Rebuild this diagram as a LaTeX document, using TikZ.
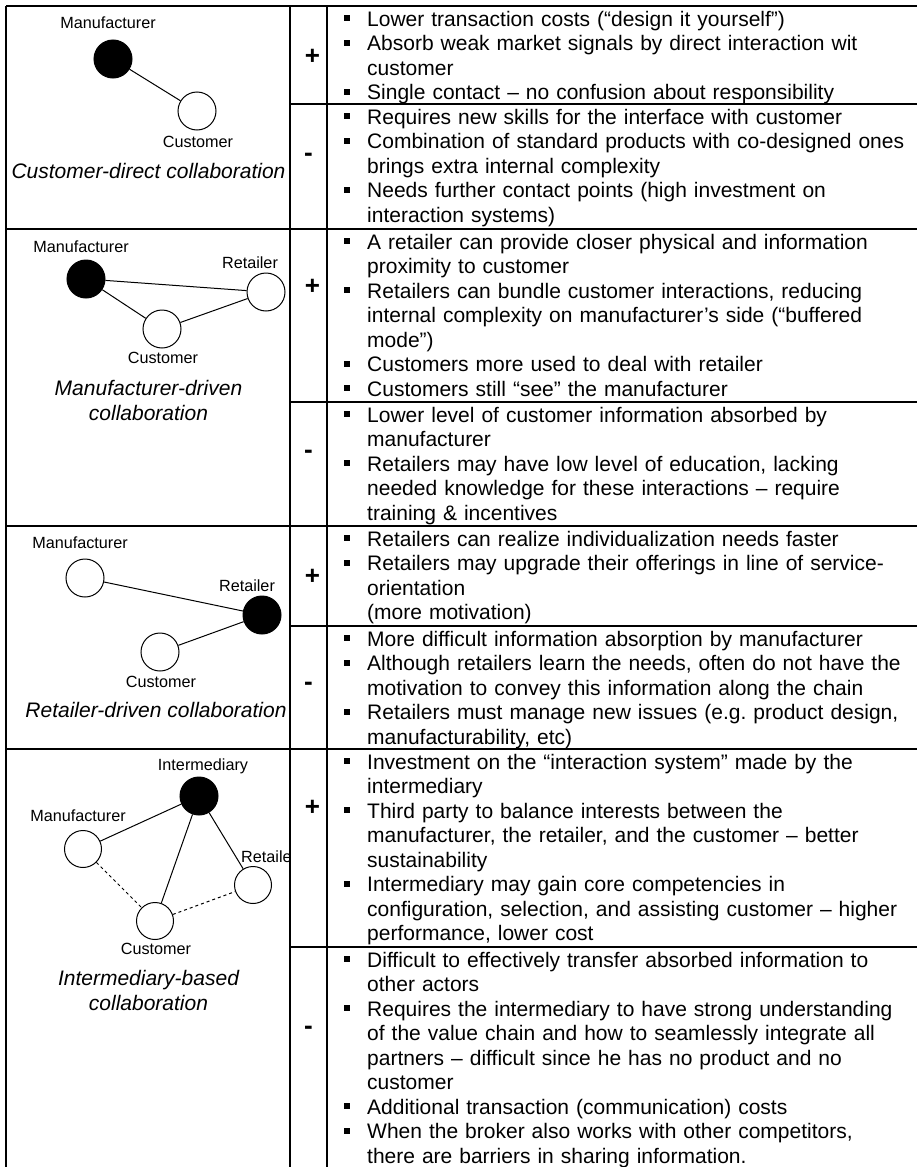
\documentclass[tikz,border=0pt]{standalone}
\usepackage{fontspec}
\setmainfont{Liberation Sans}
\usetikzlibrary{positioning}
\frenchspacing

% one bullet point with hanging indent
\newcommand{\bul}[1]{\hangindent=23pt\hangafter=1\noindent\makebox[23pt][l]{\rule[5pt]{6pt}{6pt}}\strut#1\par}

\begin{document}
\begin{tikzpicture}[
    x=1pt, y=-1pt,
    actor/.style={circle, draw, line width=1pt, minimum size=38pt, inner sep=0pt},
    lead/.style={actor, fill=black},
    lbl/.style={inner sep=0pt, font=\fontsize{16.2}{19}\selectfont},
    caption/.style={inner sep=0pt, align=center, font=\fontsize{21}{24.5}\selectfont\itshape},
    sign/.style={inner sep=0pt, font=\fontsize{26}{30}\selectfont\bfseries},
    cell/.style={anchor=north west, inner sep=0pt, text width=600pt, font=\fontsize{21}{24.5}\selectfont},
    tabline/.style={line width=2pt},
    link/.style={line width=1pt},
    weak/.style={link, dashed}
]
\useasboundingbox (0,0) rectangle (917,1167);

% Table rules
\draw[tabline] (6,6) -- (917,6);
\draw[tabline] (6,229) -- (917,229);
\draw[tabline] (6,526) -- (917,526);
\draw[tabline] (6,749) -- (917,749);
\draw[tabline] (290,104) -- (917,104);
\draw[tabline] (290,402) -- (917,402);
\draw[tabline] (290,626) -- (917,626);
\draw[tabline] (290,947) -- (917,947);
\draw[tabline] (6,6) -- (6,1167);
\draw[tabline] (290,6) -- (290,1167);
\draw[tabline] (327,6) -- (327,1167);

% Signs
\node[sign] (plus1) at (312.5,56.5) {+};
\node[sign] (minus1) at (308.5,157.5) {-};
\node[sign] (plus2) at (312.5,287) {+};
\node[sign] (minus2) at (308.5,454) {-};
\node[sign] (plus3) at (312.5,577) {+};
\node[sign] (minus3) at (308.5,686) {-};
\node[sign] (plus4) at (312.5,808) {+};
\node[sign] (minus4) at (308.5,1030) {-};

% Customer-direct collaboration
\node[lead] (manu1) at (113,59) {};
\node[actor] (cust1) at (197,111) {};
\node[lbl] (manu1l) at (108,23) {Manufacturer};
\node[lbl] (cust1l) at (198,142) {Customer};
\node[caption] (cap1) at (148.5,171) {Customer-direct collaboration};
\draw[link] (manu1) -- (cust1);

% Manufacturer-driven collaboration
\node[lead] (manu2) at (86,279) {};
\node[actor] (ret2) at (266,292) {};
\node[actor] (cust2) at (162,329) {};
\node[lbl] (manu2l) at (81,247) {Manufacturer};
\node[lbl] (ret2l) at (250,263) {Retailer};
\node[lbl] (cust2l) at (163,358) {Customer};
\node[caption] (cap2) at (148.5,400.5) {Manufacturer-driven\\collaboration};
\draw[link] (manu2) -- (ret2);
\draw[link] (manu2) -- (cust2);
\draw[link] (cust2) -- (ret2);

% Retailer-driven collaboration
\node[actor] (manu3) at (85,578) {};
\node[lead] (ret3) at (262,615) {};
\node[actor] (cust3) at (160,652) {};
\node[lbl] (manu3l) at (80,543) {Manufacturer};
\node[lbl] (ret3l) at (247,586) {Retailer};
\node[lbl] (cust3l) at (161,682) {Customer};
\node[caption] (cap3) at (156,710) {Retailer-driven collaboration};
\draw[link] (manu3) -- (ret3);
\draw[link] (cust3) -- (ret3);

% Intermediary-based collaboration
\node[lead] (int4) at (199,796) {};
\node[actor, minimum size=37pt] (manu4) at (83,849) {};
\node[actor, minimum size=37pt] (ret4) at (253,885) {};
\node[actor, minimum size=37pt] (cust4) at (155,921) {};
\node[lbl] (int4l) at (203,766) {Intermediary};
\node[lbl] (manu4l) at (78,816) {Manufacturer};
\node[lbl, anchor=west] (ret4l) at (241,857) {Retaile};
\node[lbl] (cust4l) at (156,949) {Customer};
\node[caption] (cap4) at (148.5,990.5) {Intermediary-based\\collaboration};
\draw[link] (int4) -- (manu4);
\draw[link] (int4) -- (cust4);
\draw[link] (int4) -- (ret4);
\draw[weak] (manu4) -- (cust4);
\draw[weak] (cust4) -- (ret4);

% Pros and cons
\node[cell] (pro1) at (344,8.85) {%
\bul{Lower transaction costs (“design it yourself”)}
\bul{Absorb weak market signals by direct interaction wit\newline customer}
\bul{Single contact – no confusion about responsibility}};
\node[cell] (con1) at (344,106.85) {%
\bul{Requires new skills for the interface with customer}
\bul{Combination of standard products with co-designed ones\newline brings extra internal complexity}
\bul{Needs further contact points (high investment on\newline interaction systems)}};

\node[cell] (pro2) at (344,231.85) {%
\bul{A retailer can provide closer physical and information\newline proximity to customer}
\bul{Retailers can bundle customer interactions, reducing\newline internal complexity on manufacturer’s side (“buffered\newline mode”)}
\bul{Customers more used to deal with retailer}
\bul{Customers still “see” the manufacturer}};
\node[cell] (con2) at (344,404.85) {%
\bul{Lower level of customer information absorbed by\newline manufacturer}
\bul{Retailers may have low level of education, lacking\newline needed knowledge for these interactions – require\newline training \& incentives}};

\node[cell] (pro3) at (344,528.85) {%
\bul{Retailers can realize individualization needs faster}
\bul{Retailers may upgrade their offerings in line of service-\newline orientation\newline (more motivation)}};
\node[cell] (con3) at (344,628.85) {%
\bul{More difficult information absorption by manufacturer}
\bul{Although retailers learn the needs, often do not have the\newline motivation to convey this information along the chain}
\bul{Retailers must manage new issues (e.g. product design,\newline manufacturability, etc)}};

\node[cell] (pro4) at (344,751.85) {%
\bul{Investment on the “interaction system” made by the\newline intermediary}
\bul{Third party to balance interests between the\newline manufacturer, the retailer, and the customer – better\newline sustainability}
\bul{Intermediary may gain core competencies in\newline configuration, selection, and assisting customer – higher\newline performance, lower cost}};
\node[cell] (con4) at (344,949.85) {%
\bul{Difficult to effectively transfer absorbed information to\newline other actors}
\bul{Requires the intermediary to have strong understanding\newline of the value chain and how to seamlessly integrate all\newline partners – difficult since he has no product and no\newline customer}
\bul{Additional transaction (communication) costs}
\bul{When the broker also works with other competitors,\newline there are barriers in sharing information.}};

\end{tikzpicture}
\end{document}
